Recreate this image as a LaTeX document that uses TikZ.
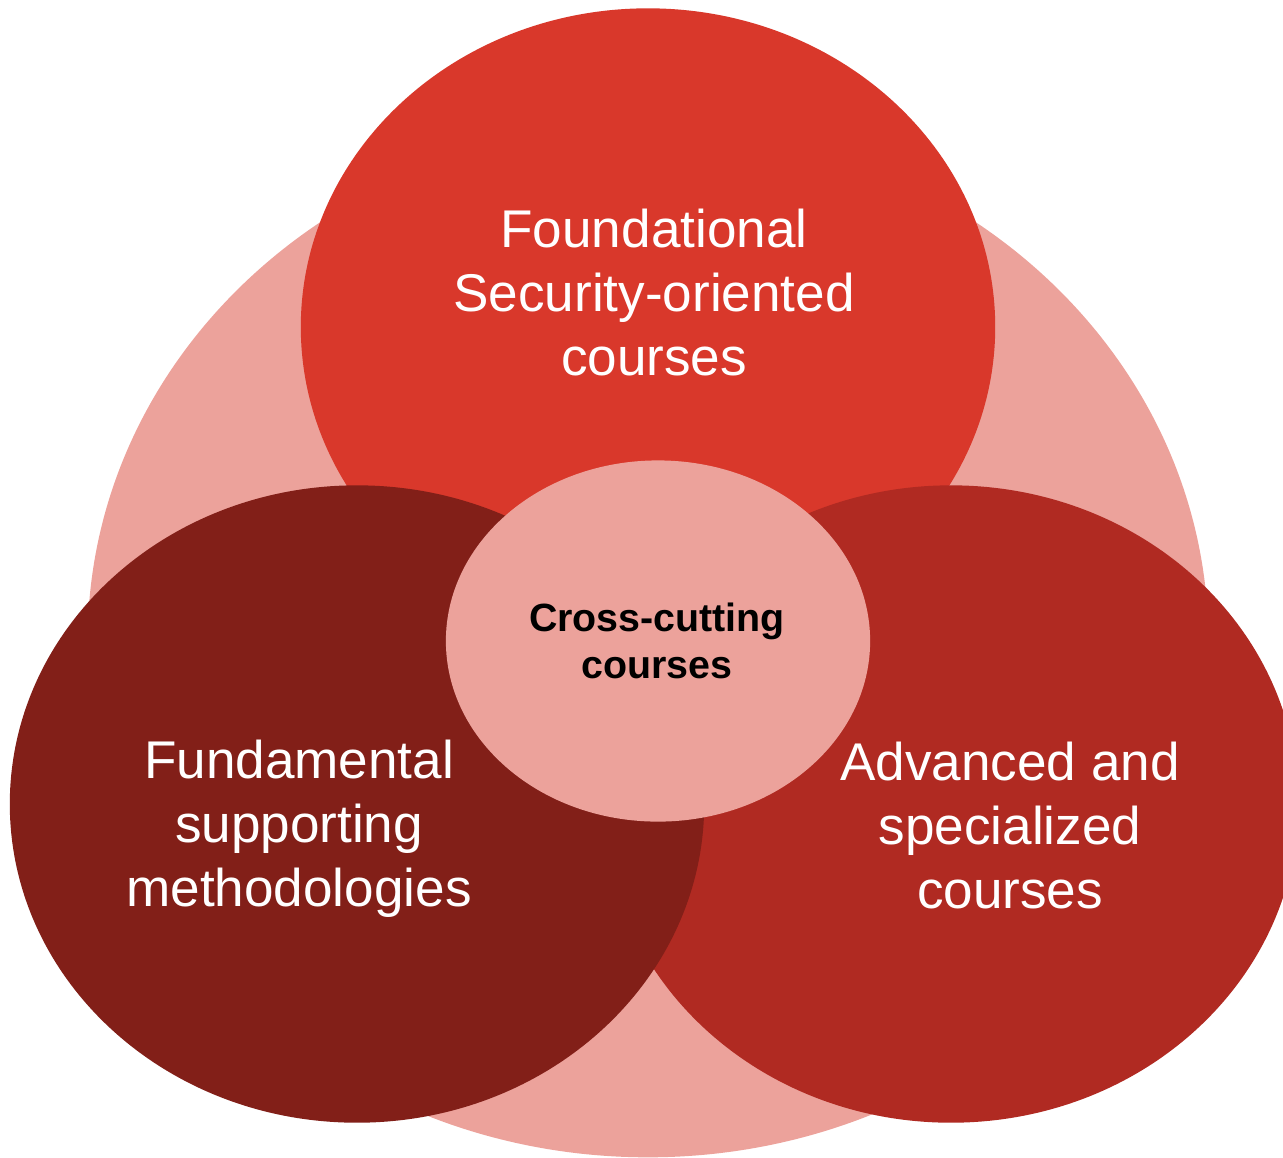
\documentclass[tikz,border=0pt]{standalone}
\usepackage{fontspec}
\setmainfont{Liberation Sans}
\usetikzlibrary{shapes.geometric, positioning}
\definecolor{pinkbg}{RGB}{236,162,155}
\definecolor{topred}{RGB}{217,56,43}
\definecolor{midred}{RGB}{176,42,34}
\definecolor{darkred}{RGB}{130,31,24}

\begin{document}
\begin{tikzpicture}[x=0.01cm, y=-0.01cm, every node/.style={inner sep=0pt},
    blob/.style={ellipse, minimum width=6.94cm, minimum height=6.37cm},
    tag/.style={text=white, align=center, font=\fontsize{15.1}{18.2}\selectfont}]
    \useasboundingbox (0,0) rectangle (1283,1157);
    % back
    \node [ellipse, fill=pinkbg, minimum width=11.2cm, minimum height=10.32cm] (bg) at (648,641) {};
    % three groups
    \node [blob, fill=topred] (top) at (648,327) {};
    \node [blob, fill=midred] (rgt) at (951,804) {};
    \node [blob, fill=darkred] (lft) at (357,804) {};
    \node [ellipse, fill=pinkbg, minimum width=4.24cm, minimum height=3.61cm] (core) at (658,641) {};
    % labels
    \node [tag] (toplbl) at (654,293) {Foundational\\Security-oriented\\courses};
    \node [tag] (lftlbl) at (299,829) {Fundamental\\supporting\\methodologies};
    \node [tag] (rgtlbl) at (1010,825) {Advanced and\\specialized\\courses};
    \node [align=center, font=\bfseries\fontsize{11.2}{13.4}\selectfont] (corelbl) at (657,641) {Cross-cutting\\courses};
\end{tikzpicture}
\end{document}
